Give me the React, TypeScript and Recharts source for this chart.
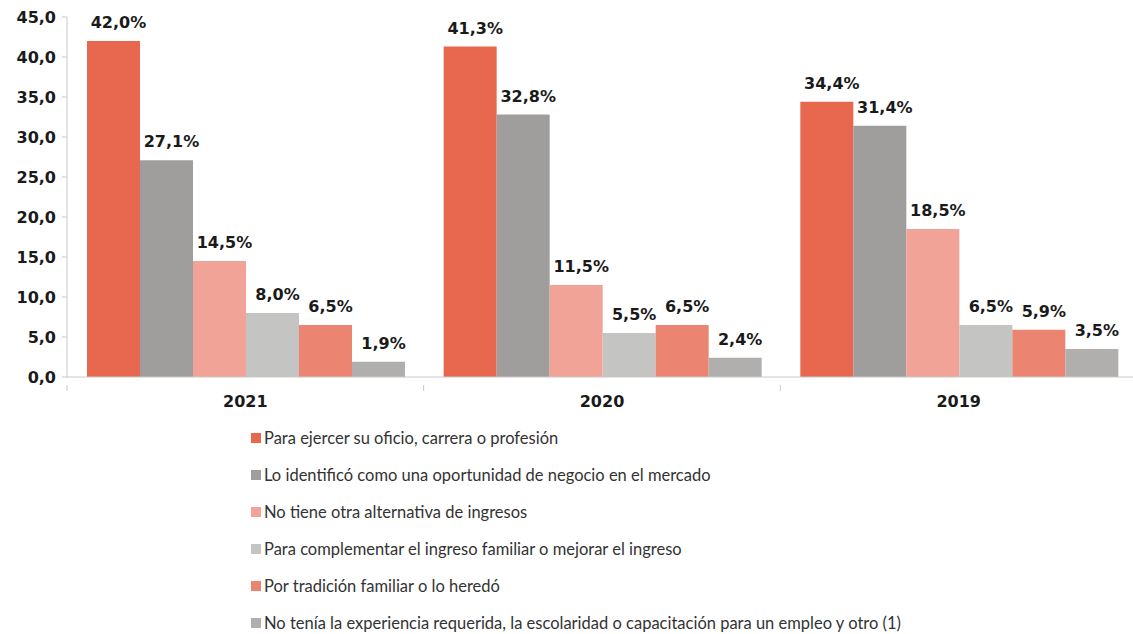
import { Bar, BarChart, LabelList, XAxis, YAxis } from "recharts";

const years = ["2021", "2020", "2019"];
const oficio = [42.0, 41.3, 34.4];
const oportunidad = [27.1, 32.8, 31.4];
const sinAlternativa = [14.5, 11.5, 18.5];
const complementar = [8.0, 5.5, 6.5];
const tradicion = [6.5, 6.5, 5.9];
const otro = [1.9, 2.4, 3.5];
const yTicks = [0, 5, 10, 15, 20, 25, 30, 35, 40, 45];

const series = [
	{ key: "oficio", name: "Para ejercer su oficio, carrera o profesión", values: oficio, color: "#E8674F" },
	{ key: "oportunidad", name: "Lo identificó como una oportunidad de negocio en el mercado", values: oportunidad, color: "#A09E9C" },
	{ key: "sinAlternativa", name: "No tiene otra alternativa de ingresos", values: sinAlternativa, color: "#F0A396" },
	{ key: "complementar", name: "Para complementar el ingreso familiar o mejorar el ingreso", values: complementar, color: "#C4C4C2" },
	{ key: "tradicion", name: "Por tradición familiar o lo heredó", values: tradicion, color: "#EC8472" },
	{ key: "otro", name: "No tenía la experiencia requerida, la escolaridad o capacitación para un empleo y otro (1)", values: otro, color: "#B0AFAD" },
];

const data = years.map((year, i) => {
	const row: Record<string, string | number> = { year };
	series.forEach((s) => (row[s.key] = s.values[i]));
	return row;
});

const comma = (v: number) => v.toFixed(1).replace(".", ",");
const numFont = "'DejaVu Sans', sans-serif";
const textFont = "Lato, 'DejaVu Sans', sans-serif";
const numStyle = { fill: "#1a1a1a", fontSize: 16, fontWeight: 700, fontFamily: numFont };
const axisColor = "#C8C8C8";

// width of one year band: plot runs from 67 to 1137 (slightly past the right edge)
const band = (1133 + 4 - 67) / years.length;

function YearTick(props: any) {
	const { x, y, payload } = props;
	return (
		<g>
			<line x1={x - band / 2} x2={x - band / 2} y1={y} y2={y + 6} stroke={axisColor} />
			<text x={x} y={y + 22} textAnchor="middle" {...numStyle}>
				{payload.value}
			</text>
		</g>
	);
}

export default function App() {
	return (
		<div style={{ position: "absolute", left: 0, top: 0, width: 1133, height: 634, background: "#fff", fontFamily: textFont }}>
			<BarChart width={1133} height={420} data={data} margin={{ top: 17, right: -4, bottom: 13, left: 0 }} barGap={0} barCategoryGap={20}>
				<XAxis dataKey="year" height={30} tickLine={false} axisLine={{ stroke: axisColor }} tick={<YearTick />} />
				<YAxis
					width={67}
					domain={[0, 45]}
					ticks={yTicks}
					interval={0}
					tickFormatter={comma}
					tickSize={5}
					tickMargin={6}
					axisLine={{ stroke: axisColor }}
					tickLine={{ stroke: axisColor }}
					tick={numStyle}
				/>
				{series.map((s) => (
					<Bar key={s.key} dataKey={s.key} name={s.name} fill={s.color} isAnimationActive={false}>
						<LabelList dataKey={s.key} position="top" offset={13} dx={5} formatter={(v: number) => comma(v) + "%"} style={numStyle} />
					</Bar>
				))}
			</BarChart>
			<div style={{ position: "absolute", left: 251, top: 419 }}>
				{series.map((s) => (
					<div key={s.key} style={{ display: "flex", alignItems: "center", height: 37, fontSize: 16.5, color: "#333" }}>
						<span style={{ width: 10, height: 10, background: s.color, marginRight: 3, flexShrink: 0 }} />
						<span>{s.name}</span>
					</div>
				))}
			</div>
		</div>
	);
}
